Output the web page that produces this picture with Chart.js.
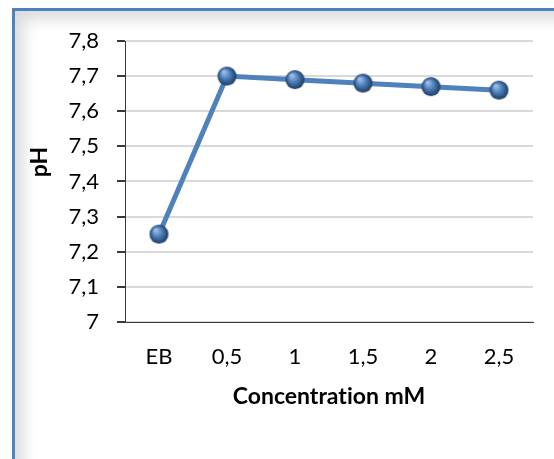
<!DOCTYPE html>
<html lang="fr">
<head>
  <meta charset="UTF-8">
  <title>pH</title>
  <style>
    body {
      margin: 0;
      width: 554px;
      height: 459px;
      overflow: hidden;
      background: #ffffff;
      position: relative;
    }
    #moldura {
      position: absolute;
      left: 12px;
      top: 8px;
      right: -20px;
      bottom: -20px;
      border-left: 3px solid #4f81bd;
      border-top: 3px solid #4f81bd;
      box-shadow: inset 16px 16px 16px -8px rgba(0, 0, 0, 0.15);
    }
    #grafico {
      position: absolute;
      left: 0;
      top: 0;
      font-variant-ligatures: none;
    }
  </style>
</head>
<body>
  <div id="moldura"></div>
  <canvas id="grafico" width="554" height="459"></canvas>

  <script src="https://cdn.jsdelivr.net/npm/chart.js"></script>
  <script>
    // Dados do gráfico
    const categorias = ['EB', '0,5', '1', '1,5', '2', '2,5'];
    const valoresPH = [7.25, 7.70, 7.69, 7.68, 7.67, 7.66];
    const ticksY = [7, 7.1, 7.2, 7.3, 7.4, 7.5, 7.6, 7.7, 7.8];
    const rotulosY = ['7', '7,1', '7,2', '7,3', '7,4', '7,5', '7,6', '7,7', '7,8'];

    const azul = '#4f81bd';
    const fonte = 'Lato, "Open Sans", sans-serif';

    // Marcador em forma de esfera
    function criarEsfera(r) {
      const c = document.createElement('canvas');
      c.width = c.height = 2 * r + 2;
      const g = c.getContext('2d');
      const cx = r + 1;
      const grad = g.createRadialGradient(cx - r * 0.35, cx - r * 0.45, r * 0.1, cx, cx, r);
      grad.addColorStop(0, '#9dbde8');
      grad.addColorStop(0.45, '#4f81bd');
      grad.addColorStop(1, '#1d3a62');
      g.fillStyle = grad;
      g.beginPath();
      g.arc(cx, cx, r, 0, Math.PI * 2);
      g.fill();
      return c;
    }
    const esfera = criarEsfera(9.5);

    const ctx = document.getElementById('grafico').getContext('2d');
    const grafico = new Chart(ctx, {
      type: 'line',
      data: {
        labels: categorias,
        datasets: [{
          label: 'pH',
          data: valoresPH,
          borderColor: azul,
          borderWidth: 5,
          pointStyle: esfera,
          pointRadius: 9,
          tension: 0
        }]
      },
      options: {
        responsive: false,
        animation: false,
        devicePixelRatio: 1,
        layout: {
          padding: { left: 25, top: 41, right: 21, bottom: 49 }
        },
        plugins: {
          legend: { display: false },
          tooltip: { enabled: false }
        },
        scales: {
          x: {
            offset: true,
            afterFit: s => { s.height = 88; },
            grid: { display: false, drawTicks: false },
            border: { display: true, color: '#3a3a3a', width: 1 },
            ticks: {
              padding: 22,
              color: '#000',
              font: { family: fonte, size: 22 }
            },
            title: {
              display: true,
              text: 'Concentration mM',
              color: '#000',
              padding: 0,
              font: { family: fonte, size: 23, weight: 'bold' }
            }
          },
          y: {
            min: 7,
            max: 7.8,
            afterFit: s => { s.width = 100; },
            afterBuildTicks: s => { s.ticks = ticksY.map(v => ({ value: v })); },
            grid: {
              color: '#d9d9d9',
              lineWidth: 2,
              tickColor: '#3a3a3a',
              tickLength: 8
            },
            border: { display: true, color: '#3a3a3a', width: 1 },
            ticks: {
              padding: 18,
              color: '#000',
              font: { family: fonte, size: 22 },
              callback: (v, i) => rotulosY[i]
            },
            title: {
              display: true,
              text: '       pH',
              color: '#000',
              padding: { top: 1, bottom: 0 },
              font: { family: fonte, size: 23, weight: 'bold' }
            }
          }
        }
      }
    });
  </script>
</body>
</html>
